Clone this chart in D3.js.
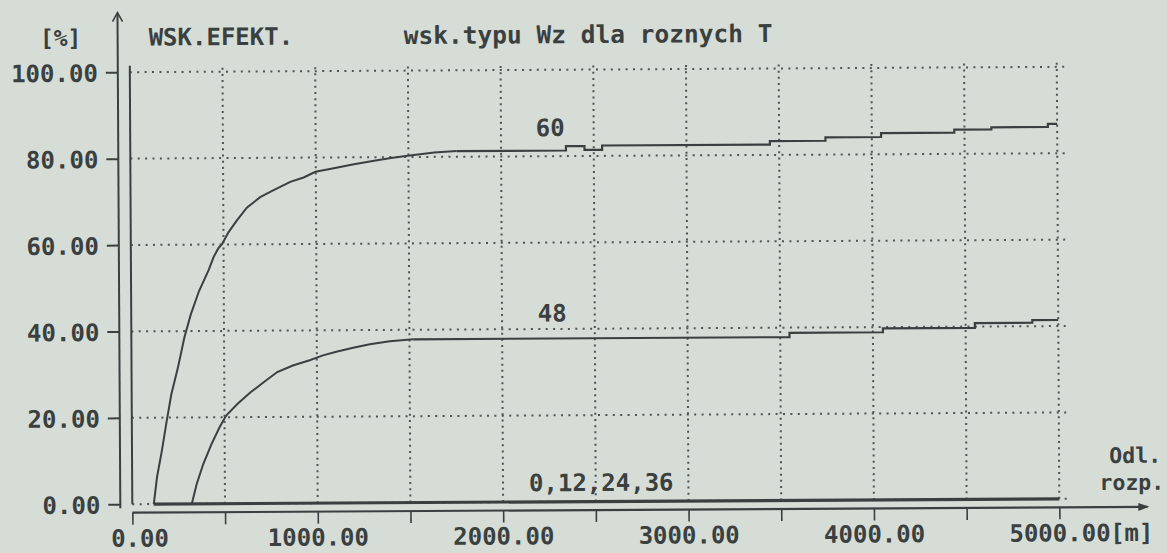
<!DOCTYPE html>
<html>
<head>
<meta charset="utf-8">
<script src="https://cdn.jsdelivr.net/npm/d3@7"></script>
<style>
  html, body { margin: 0; padding: 0; background: #d6ddd6; }
  svg { display: block; }
  text { font-family: "DejaVu Sans Mono", monospace; font-weight: bold; fill: #3a4040; }
</style>
</head>
<body>
<svg id="chart" width="1167" height="553"></svg>
<script>
// Axis ticks
const distanceTicks = [0, 500, 1000, 1500, 2000, 2500, 3000, 3500, 4000, 4500, 5000]; // [m]
const percentTicks = [0, 20, 40, 60, 80, 100];                                        // [%]

// T = 60 : rising part (distance [m], efficiency [%])
const t60RiseDist = [116, 134, 161, 188, 214, 250, 286, 321, 366, 420, 446, 473, 491, 527, 572, 627, 699, 772, 862, 934, 998, 1097, 1206, 1315, 1406, 1496, 1640, 1760];
const t60RiseVal  = [0, 6.2, 12.3, 19.2, 25.4, 31.5, 38.5, 43.8, 49.2, 54.2, 57.1, 59.2, 60.0, 62.8, 65.5, 68.5, 70.9, 72.5, 74.4, 75.4, 76.7, 77.5, 78.4, 79.2, 79.8, 80.3, 81.0, 81.3];
// T = 60 : stepped tail (value holds until next distance)
const t60StepDist = [1760, 2350, 2450, 2545, 3450, 3750, 4050, 4445, 4645, 4950, 5000];
const t60StepVal  = [81.3, 82.3, 81.4, 82.4, 83.2, 84.0, 84.9, 85.6, 86.1, 86.8, 86.8];

// T = 48 : rising part
const t48RiseDist = [321, 348, 384, 429, 473, 509, 571, 643, 714, 786, 870, 961, 1033, 1105, 1196, 1286, 1394, 1520];
const t48RiseVal  = [0, 4.6, 9.2, 13.8, 17.7, 20.4, 23.1, 25.8, 28.1, 30.4, 31.9, 33.1, 34.2, 35.0, 35.9, 36.7, 37.4, 37.8];
// T = 48 : stepped tail
const t48StepDist = [1520, 3550, 4054, 4550, 4860, 5000];
const t48StepVal  = [37.8, 38.8, 39.7, 40.8, 41.4, 41.4];

// T = 0, 12, 24, 36 : all zero
const t0Dist = [115, 5000];
const t0Val  = [0, 0];

// Curve labels
const labelText = ["60", "48", "0,12,24,36"];
const labelDist = [2266, 2271, 2530];
const labelVal  = [86.5, 43.6, 4.3];

const ink = "#3a4040";
const gridInk = "#4e5555";
const fmt = d3.format(".2f");

const svg = d3.select("#chart");
const root = svg.append("g").attr("transform", "rotate(-0.33 583 276)");

const x = d3.scaleLinear().domain([0, 5000]).range([131, 1058]);
const y = d3.scaleLinear().domain([0, 100]).range([501.6, 69.6]);

// Dotted grid
const grid = root.append("g");
grid.selectAll("line.h").data(percentTicks).join("line")
  .attr("x1", x(0)).attr("x2", x(5050))
  .attr("y1", d => y(d)).attr("y2", d => y(d))
  .attr("stroke", gridInk).attr("stroke-width", 2)
  .attr("stroke-dasharray", "2,5.4");
grid.selectAll("line.v").data(distanceTicks.filter(d => d > 0)).join("line")
  .attr("x1", d => x(d)).attr("x2", d => x(d))
  .attr("y1", y(0)).attr("y2", y(101.5))
  .attr("stroke", gridInk).attr("stroke-width", 2)
  .attr("stroke-dasharray", "2,4.2");

// Solid frame line at distance 0
root.append("line")
  .attr("x1", x(0)).attr("x2", x(0))
  .attr("y1", y(0)).attr("y2", y(101.5))
  .attr("stroke", ink).attr("stroke-width", 2);

// Y axis
const yAxisX = 119;
const yAxis = root.append("g").attr("transform", `translate(${yAxisX},0)`)
  .call(d3.axisLeft(y).tickValues(percentTicks).tickSize(12).tickPadding(8).tickFormat(fmt));
yAxis.select(".domain").remove();
yAxis.selectAll(".tick line").attr("stroke", ink).attr("stroke-width", 2);
yAxis.selectAll(".tick text").attr("font-size", 24).attr("dy", "0.37em")
  .attr("font-family", "DejaVu Sans Mono").attr("fill", ink);
root.append("line")
  .attr("x1", yAxisX).attr("x2", yAxisX)
  .attr("y1", y(0) + 4).attr("y2", 11)
  .attr("stroke", ink).attr("stroke-width", 2);
root.append("path")
  .attr("d", `M${yAxisX - 5},19 L${yAxisX},10 L${yAxisX + 5},19`)
  .attr("fill", "none").attr("stroke", ink).attr("stroke-width", 1.6);

// X axis
const xAxisY = y(0) + 8.5;
const xAxis = root.append("g").attr("transform", `translate(0,${xAxisY})`)
  .call(d3.axisBottom(x).tickValues(distanceTicks).tickSize(12)
    .tickFormat(d => d % 1000 === 0 ? fmt(d) : ""));
xAxis.select(".domain").remove();
xAxis.selectAll(".tick line").attr("stroke", ink).attr("stroke-width", 1.6);
xAxis.selectAll(".tick text").attr("font-size", 24).attr("y", 34).attr("dy", 0)
  .attr("font-family", "DejaVu Sans Mono").attr("fill", ink);
xAxis.selectAll(".tick text").filter(d => d === 0).attr("dx", 7);
const xEnd = 1148;
root.append("line")
  .attr("x1", x(0)).attr("x2", xEnd - 2)
  .attr("y1", xAxisY).attr("y2", xAxisY)
  .attr("stroke", ink).attr("stroke-width", 2.2);
root.append("path")
  .attr("d", `M${xEnd - 11},${xAxisY - 4} L${xEnd},${xAxisY} L${xEnd - 11},${xAxisY + 4} Z`)
  .attr("fill", ink);

// Unit texts
root.append("text").attr("x", x(5000) + 50.6).attr("y", xAxisY + 34)
  .attr("font-size", 24).text("[m]");
root.append("text").attr("x", 1160).attr("y", 466).attr("text-anchor", "end")
  .attr("font-size", 21.5).text("Odl.");
root.append("text").attr("x", 1163).attr("y", 493).attr("text-anchor", "end")
  .attr("font-size", 21.5).text("rozp.");
root.append("text").attr("x", 62).attr("y", 43).attr("text-anchor", "middle")
  .attr("font-size", 23).text("[%]");
root.append("text").attr("x", 150).attr("y", 43)
  .attr("font-size", 24).text("WSK.EFEKT.");
root.append("text").attr("x", 405).attr("y", 43)
  .attr("font-size", 24.5).text("wsk.typu Wz dla roznych T");

// Series
const linear = d3.line().x(d => x(d[0])).y(d => y(d[1]));
const stepped = d3.line().x(d => x(d[0])).y(d => y(d[1])).curve(d3.curveStepAfter);
const zip = (a, b) => a.map((v, i) => [v, b[i]]);

const series = root.append("g").attr("fill", "none").attr("stroke", ink);
series.append("path").attr("d", linear(zip(t0Dist, t0Val))).attr("stroke-width", 3.2);
series.append("path").attr("d", linear(zip(t60RiseDist, t60RiseVal))).attr("stroke-width", 2);
series.append("path").attr("d", stepped(zip(t60StepDist, t60StepVal))).attr("stroke-width", 2.2);
series.append("path").attr("d", linear(zip(t48RiseDist, t48RiseVal))).attr("stroke-width", 2);
series.append("path").attr("d", stepped(zip(t48StepDist, t48StepVal))).attr("stroke-width", 2.2);

// Curve labels
root.append("g").selectAll("text").data(labelText).join("text")
  .attr("x", (d, i) => x(labelDist[i]))
  .attr("y", (d, i) => y(labelVal[i]))
  .attr("text-anchor", "middle").attr("dominant-baseline", "central")
  .attr("font-size", 24).text(d => d);
</script>
</body>
</html>
